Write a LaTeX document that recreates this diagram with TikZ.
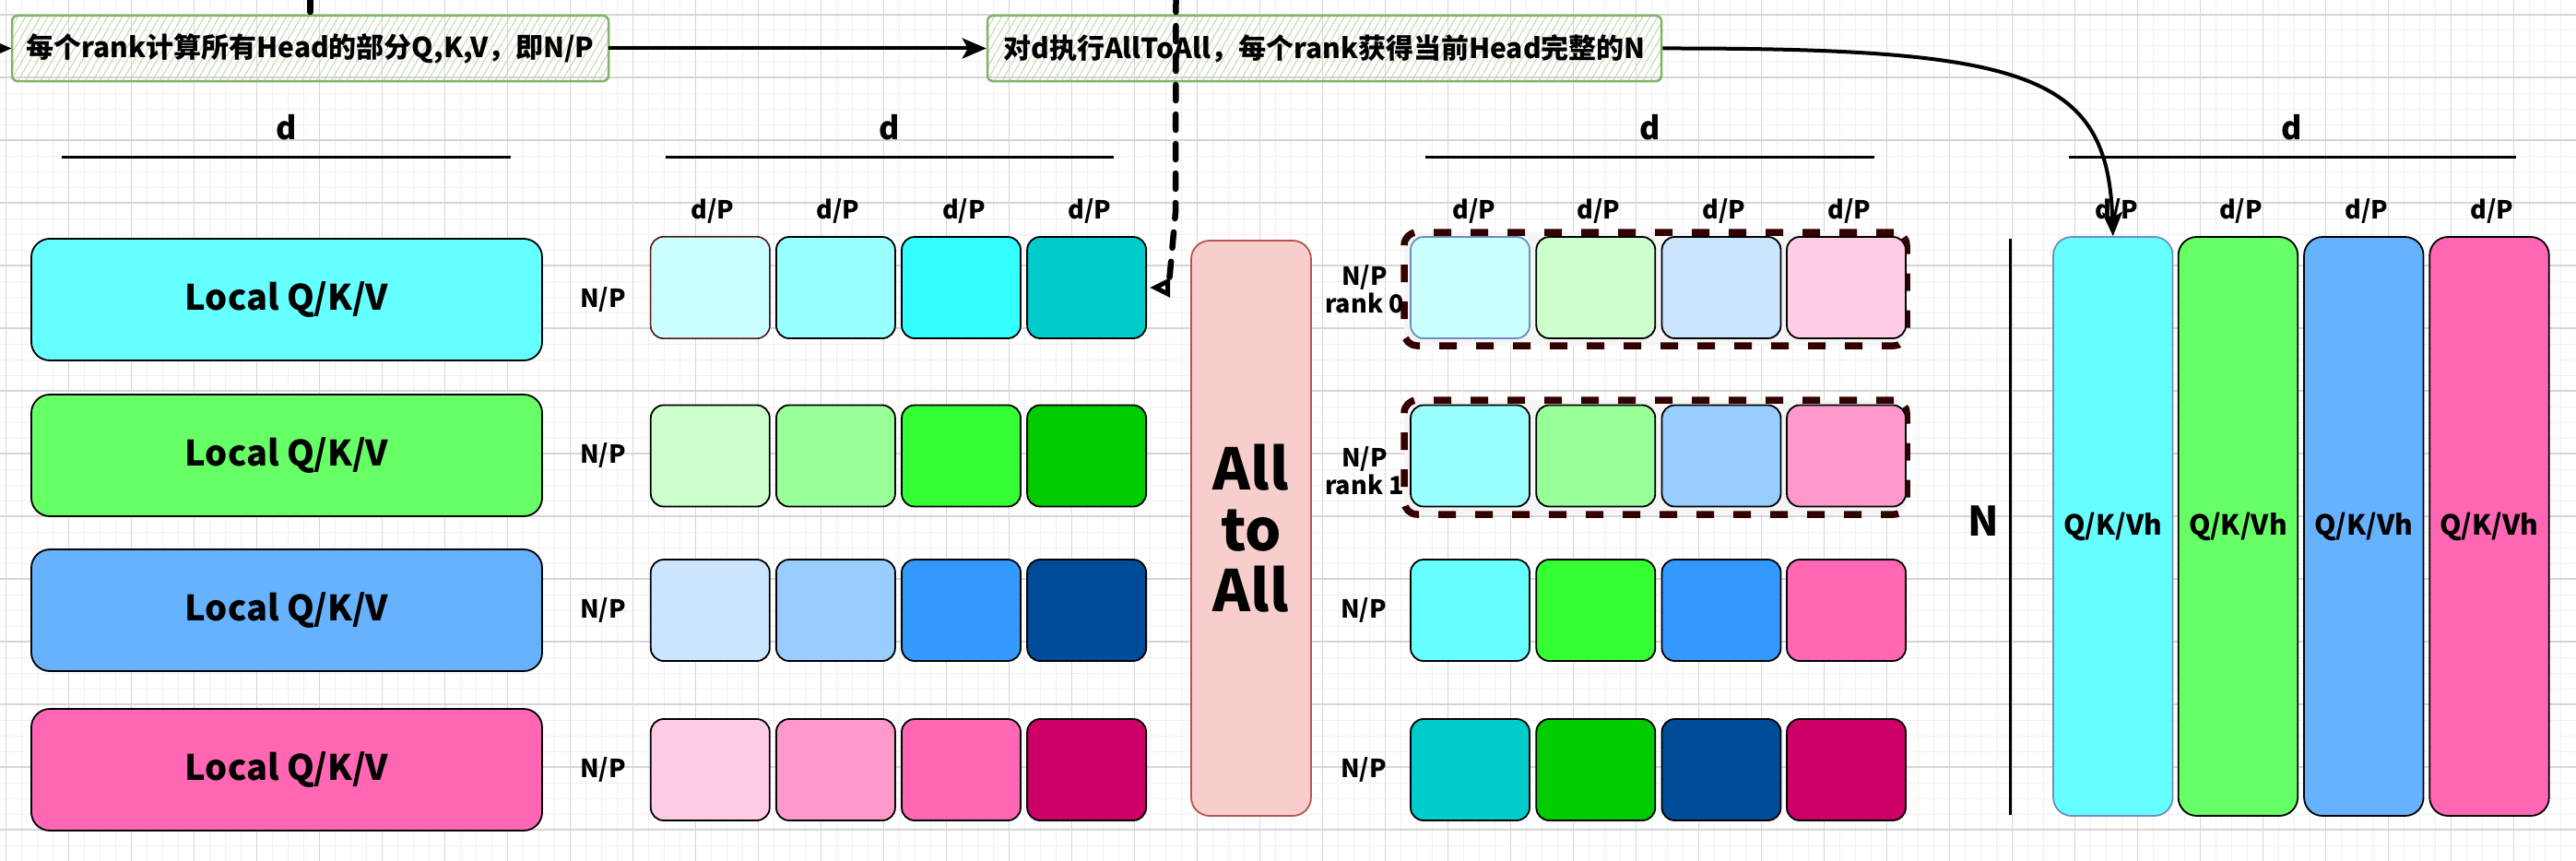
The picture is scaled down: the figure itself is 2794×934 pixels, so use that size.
\documentclass[tikz,border=0pt]{standalone}
\usepackage{fontspec}
\setmainfont{Noto Sans CJK SC}
\usetikzlibrary{arrows.meta,patterns.meta}
\definecolor{cA}{HTML}{66FFFF}\definecolor{cB}{HTML}{66FF66}\definecolor{cC}{HTML}{66B2FF}\definecolor{cD}{HTML}{FF66B3}
\definecolor{a1}{HTML}{CCFFFF}\definecolor{a2}{HTML}{99FFFF}\definecolor{a3}{HTML}{33FFFF}\definecolor{a4}{HTML}{00CCCC}
\definecolor{b1}{HTML}{CCFFCC}\definecolor{b2}{HTML}{99FF99}\definecolor{b3}{HTML}{33FF33}\definecolor{b4}{HTML}{00CC00}
\definecolor{e1}{HTML}{CCE5FF}\definecolor{e2}{HTML}{99CCFF}\definecolor{e3}{HTML}{3399FF}\definecolor{e4}{HTML}{004C99}
\definecolor{f1}{HTML}{FFCCE6}\definecolor{f2}{HTML}{FF99CC}\definecolor{f3}{HTML}{FF66B3}\definecolor{f4}{HTML}{CC0066}
\definecolor{blueline}{HTML}{6C8EBF}\definecolor{redline}{HTML}{B85450}\definecolor{redfill}{HTML}{F8CECC}
\definecolor{greenline}{HTML}{82B366}\definecolor{hatch}{HTML}{B9D9A9}\definecolor{grpline}{HTML}{330000}
\definecolor{grpfill}{HTML}{F5F5F5}\definecolor{minorg}{HTML}{F0F0F0}\definecolor{majorg}{HTML}{D6D6D6}
\definecolor{darkred}{HTML}{5A1A1A}
\newcommand\fsz[2]{\fontsize{#1}{#2}\selectfont\bfseries}
\tikzset{
  minorgrid/.style={draw=minorg, line width=1pt},
  majorgrid/.style={draw=majorg, line width=1.2pt},
  note/.style={draw=greenline, line width=2.5pt, rounded corners=6pt, pattern={Lines[angle=60,distance=7pt,line width=0.9pt]}, pattern color=hatch, font={\fsz{30}{34}}, inner sep=0pt},
  lbox/.style={draw=black, line width=1.8pt, rounded corners=20pt, minimum width=554pt, minimum height=132pt, font={\fsz{38}{44}}},
  sbox/.style={draw=black, line width=1.8pt, rounded corners=14pt, minimum width=129pt, minimum height=110pt, inner sep=0pt},
  tbox/.style={draw=black, line width=1.8pt, rounded corners=20pt, minimum width=129.5pt, minimum height=628pt, font={\fsz{30}{34}}},
  grp/.style={draw=grpline, fill=grpfill, line width=7.5pt, dash pattern=on 19pt off 21pt, rounded corners=14pt, inner sep=0pt},
  lab/.style={font={\fsz{27}{30}}, inner sep=0pt, align=center},
  dlab/.style={font={\fsz{34}{38}}, inner sep=0pt},
  dline/.style={line width=3pt},
  conn/.style={line width=4pt, -{Stealth[length=26pt,width=22pt,inset=6pt]}},
  dashconn/.style={line width=6.5pt, line cap=round, dash pattern=on 17pt off 15pt},
}
\begin{document}
\begin{tikzpicture}[x=1pt,y=-1pt]
\useasboundingbox (0,0) rectangle (2794,934);
\fill[white] (0,0) rectangle (2794,934);
% grid
\foreach \k in {0,...,164} \draw[minorgrid] ({6.5+17*\k},0) -- ++(0,934);
\foreach \k in {0,...,55} \draw[minorgrid] (0,{-1+17*\k}) -- ++(2794,0);
\foreach \k in {0,...,41} \draw[majorgrid] ({6.5+68*\k},0) -- ++(0,934);
\foreach \k in {0,...,13} \draw[majorgrid] (0,{16+68*\k}) -- ++(2794,0);

% top notes
\node[note, minimum width=647pt, minimum height=71pt] (A) at (336.5,52.5) {每个rank计算所有Head的部分Q,K,V，即N/P};
\node[note, minimum width=731pt, minimum height=71pt] (B) at (1436.5,52.5) {对d执行AllToAll，每个rank获得当前Head完整的N};

% dimension labels d
\node[dlab] (d1) at (310.5,138) {d};
\node[dlab] (d2) at (965,138) {d};
\node[dlab] (d3) at (1789.5,138) {d};
\node[dlab] (d4) at (2486,138) {d};
\draw[dline] (67,170) -- (554,170);
\draw[dline] (722,170) -- (1208,170);
\draw[dline] (1546,170) -- (2033,170);
\draw[dline] (2244,170) -- (2729,170);

% left local boxes
\node[lbox, fill=cA] (L1) at (311,325) {Local Q/K/V};
\node[lbox, fill=cB] (L2) at (311,494) {Local Q/K/V};
\node[lbox, fill=cC] (L3) at (311,662) {Local Q/K/V};
\node[lbox, fill=cD] (L4) at (311,835) {Local Q/K/V};
\node[lab] (np1) at (654,325) {N/P};
\node[lab] (np2) at (654,494) {N/P};
\node[lab] (np3) at (654,662) {N/P};
\node[lab] (np4) at (654,835) {N/P};

% middle grid
\foreach \x [count=\j] in {773,909,1045.5,1181.6} \node[lab] (mdp\j) at (\x,229) {d/P};
\foreach \y/\r [count=\i] in {312/a,494.5/b,662/e,835/f}{
  \foreach \x [count=\j] in {770.3,906.4,1042.5,1178.6}
    \node[sbox, fill=\r\j] (m\i\j) at (\x,\y) {};
}
\node[sbox, fill=a1, draw=darkred, line width=1.3pt] (m11) at (770.3,312) {};

% all to all
\node[draw=redline, fill=redfill, line width=1.8pt, rounded corners=20pt, minimum width=130pt, minimum height=624pt, align=center, font={\fsz{62}{66}}] (ata) at (1357,573) {All\\to\\All};

% right grid
\node[grp, minimum width=545pt, minimum height=123pt] (G1) at (1795.5,313.5) {};
\node[grp, minimum width=545pt, minimum height=124pt] (G2) at (1795.5,496) {};
\foreach \x [count=\j] in {1598.6,1734,1869.6,2005.8} \node[lab] (rdp\j) at (\x,229) {d/P};
\foreach \r/\y [count=\i] in {1/312,2/494.5,3/662,4/835}{
  \foreach \c [count=\j] in {1594.5,1730.8,1867,2002.5}
    \coordinate (rc\i\j) at (\c,\y);
}
\node[sbox, fill=a1, draw=blueline] (r11) at (rc11) {};
\node[sbox, fill=b1] (r12) at (rc12) {};
\node[sbox, fill=e1] (r13) at (rc13) {};
\node[sbox, fill=f1] (r14) at (rc14) {};
\node[sbox, fill=a2] (r21) at (rc21) {};
\node[sbox, fill=b2] (r22) at (rc22) {};
\node[sbox, fill=e2] (r23) at (rc23) {};
\node[sbox, fill=f2] (r24) at (rc24) {};
\node[sbox, fill=cA] (r31) at (rc31) {};
\node[sbox, fill=b3] (r32) at (rc32) {};
\node[sbox, fill=e3] (r33) at (rc33) {};
\node[sbox, fill=f3] (r34) at (rc34) {};
\node[sbox, fill=a4] (r41) at (rc41) {};
\node[sbox, fill=b4] (r42) at (rc42) {};
\node[sbox, fill=e4] (r43) at (rc43) {};
\node[sbox, fill=f4] (r44) at (rc44) {};
\node[lab] (rk0) at (1480,314) {N/P\\rank 0};
\node[lab] (rk1) at (1480,511) {N/P\\rank 1};
\node[lab] (rnp3) at (1479,662) {N/P};
\node[lab] (rnp4) at (1479,835) {N/P};

% full N columns
\draw[dline] (2180,259) -- (2180,884);
\node[font={\fsz{44}{48}}, inner sep=0pt] (Nlab) at (2151,565) {N};
\foreach \x [count=\j] in {2295.8,2430.5,2566.9,2703} \node[lab] (tdp\j) at (\x,229) {d/P};
\node[tbox, fill=cA, draw=blueline] (T1) at (2291.8,571) {Q/K/Vh};
\node[tbox, fill=cB] (T2) at (2427.4,571) {Q/K/Vh};
\node[tbox, fill=cC] (T3) at (2563.8,571) {Q/K/Vh};
\node[tbox, fill=cD] (T4) at (2700,571) {Q/K/Vh};

% connectors
\coordinate (inL) at (-40,52.5);
\draw[conn] (inL) -- (A.west);
\draw[conn] (A.east) -- (B.west);
\coordinate (topA) at (336.5,-4);
\draw[dashconn] (topA) -- (A.north);
\coordinate (topB) at (1275.5,-4);
\coordinate (bendB) at (1275,230);
\coordinate (endB) at (1247,312);
\draw[dashconn, -{Triangle[open,length=22pt,width=20pt,line width=5pt]}] (topB) -- (bendB) -- (1269,296) .. controls (1268,306) and (1266,312) .. (endB);
\draw[conn] (B.east) .. controls (2200,52) and (2286,80) .. (T1.north);
\end{tikzpicture}
\end{document}
